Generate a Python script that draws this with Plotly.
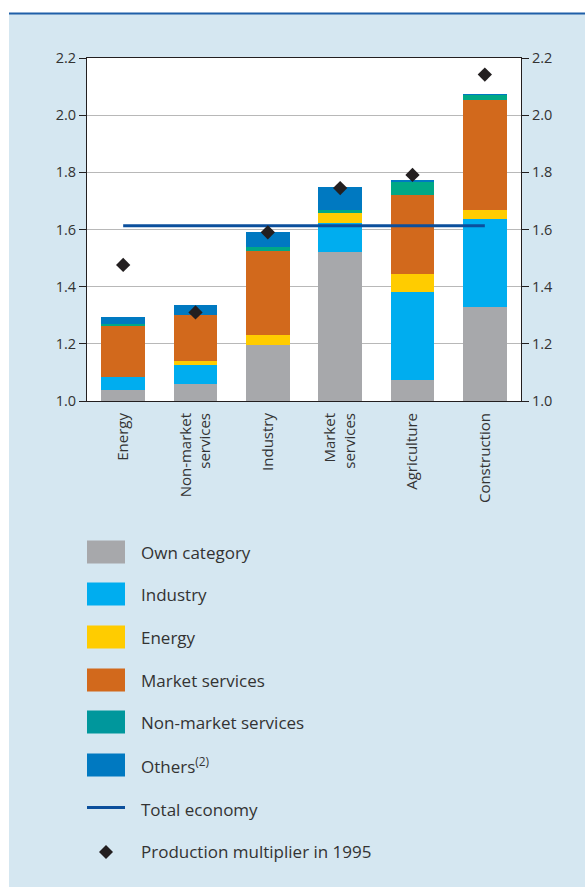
import plotly.graph_objects as go

# sectors on the x axis
sectors = ['Energy', 'Non-market<br>services', 'Industry',
           'Market<br>services', 'Agriculture', 'Construction']

# contributions to the production multiplier (stacked)
own_category = [1.040, 1.061, 1.195, 1.522, 1.075, 1.328]
industry = [0.044, 0.064, 0.000, 0.102, 0.308, 0.310]
energy = [0.000, 0.016, 0.037, 0.032, 0.062, 0.031]
market_services = [0.177, 0.159, 0.294, 0.000, 0.277, 0.385]
non_market_services = [0.008, 0.000, 0.014, 0.013, 0.043, 0.018]
others = [0.025, 0.037, 0.052, 0.081, 0.009, 0.002]

multiplier_1995 = [1.476, 1.310, 1.590, 1.745, 1.791, 2.142]
total_economy = 1.613

W, H = 585, 887
L, R, T, B = 87, 521, 58, 401  # plot area in pixels

BG = '#d5e7f1'
TXT = '#333333'
AX = '#231f20'

series = [
    ('Own category', own_category, '#a7a8ab', '#a7a8ab'),
    ('Industry', industry, '#00adef', '#00adef'),
    ('Energy', energy, '#ffcc00', '#ffcc00'),
    ('Market services', market_services, '#d2691c', '#d2691c'),
    ('Non-market services', non_market_services, '#00a886', '#00979c'),
    ('Others<sup>(2)</sup>', others, '#0079c1', '#0079c1'),
]

fig = go.Figure()
for name, vals, col, _ in series:
    fig.add_trace(go.Bar(x=sectors, y=vals, name=name,
                         marker=dict(color=col, line=dict(width=0))))

fig.add_trace(go.Scatter(x=[sectors[0], sectors[-1]],
                         y=[total_economy, total_economy],
                         mode='lines', name='Total economy',
                         line=dict(color='#0b4f9c', width=3)))
fig.add_trace(go.Scatter(x=sectors, y=multiplier_1995, mode='markers',
                         name='Production multiplier in 1995',
                         marker=dict(symbol='diamond', size=11, color=AX)))
# invisible trace so the right axis is drawn
fig.add_trace(go.Scatter(x=[sectors[0]], y=[1.0], yaxis='y2', mode='markers',
                         marker=dict(opacity=0), showlegend=False,
                         hoverinfo='skip'))


def px_x(p):
    return (p - L) / (R - L)


def px_y(p):
    return (B - p) / (B - T)


shapes = [
    # white strip on top and left, blue rule
    dict(type='rect', xref='paper', yref='paper', x0=px_x(0), x1=px_x(W),
         y0=px_y(0), y1=px_y(13), fillcolor='white', line_width=0),
    dict(type='rect', xref='paper', yref='paper', x0=px_x(0), x1=px_x(9),
         y0=px_y(0), y1=px_y(H), fillcolor='white', line_width=0),
    dict(type='line', xref='paper', yref='paper', x0=px_x(9), x1=px_x(W),
         y0=px_y(13.5), y1=px_y(13.5), line=dict(color='#1f5fa8', width=2)),
]
annotations = []

# hand-made legend
row_y = [552, 594, 637, 680, 722, 765]
for (name, _, _, lcol), yc in zip(series, row_y):
    shapes.append(dict(type='rect', xref='paper', yref='paper',
                       x0=px_x(87), x1=px_x(125),
                       y0=px_y(yc + 11.5), y1=px_y(yc - 11.5),
                       fillcolor=lcol, line_width=0))
    annotations.append(dict(text=name, x=px_x(139), y=px_y(yc)))
shapes.append(dict(type='line', xref='paper', yref='paper',
                   x0=px_x(87), x1=px_x(125), y0=px_y(807.5), y1=px_y(807.5),
                   line=dict(color='#0b4f9c', width=3)))
annotations.append(dict(text='Total economy', x=px_x(139), y=px_y(809)))
shapes.append(dict(type='path', xref='paper', yref='paper',
                   path='M {} {} L {} {} L {} {} L {} {} Z'.format(
                       px_x(99), px_y(852), px_x(106), px_y(845),
                       px_x(113), px_y(852), px_x(106), px_y(859)),
                   fillcolor=AX, line_width=0))
annotations.append(dict(text='Production multiplier in 1995',
                        x=px_x(139), y=px_y(851)))
for a in annotations:
    a.update(xref='paper', yref='paper', xanchor='left', yanchor='middle',
             showarrow=False, font=dict(size=17, color=TXT))

yax = dict(range=[1.0, 2.2], dtick=0.2, tickformat='.1f',
           ticks='outside', ticklen=7, tickcolor=AX,
           showline=True, linecolor=AX, linewidth=1,
           tickfont=dict(size=14.5, color=TXT), zeroline=False)

fig.update_layout(
    width=W, height=H,
    margin=dict(l=L, r=W - R, t=T, b=H - B),
    barmode='stack', bargap=0.4,
    paper_bgcolor=BG, plot_bgcolor='white',
    font=dict(family='Open Sans', color=TXT),
    showlegend=False,
    xaxis=dict(tickangle=-90, tickfont=dict(size=15, color=TXT),
               showline=True, linecolor=AX, linewidth=1, mirror=True,
               ticks='', ticklabelstandoff=5),
    yaxis=dict(**yax, showgrid=True, gridcolor='#b8b8b8', gridwidth=1),
    yaxis2=dict(**yax, overlaying='y', side='right', showgrid=False),
    shapes=shapes,
    annotations=annotations,
)

fig.write_html('out.html', config={'displayModeBar': False},
               post_script="document.body.style.margin='0';"
                           "document.body.style.overflow='hidden';")
